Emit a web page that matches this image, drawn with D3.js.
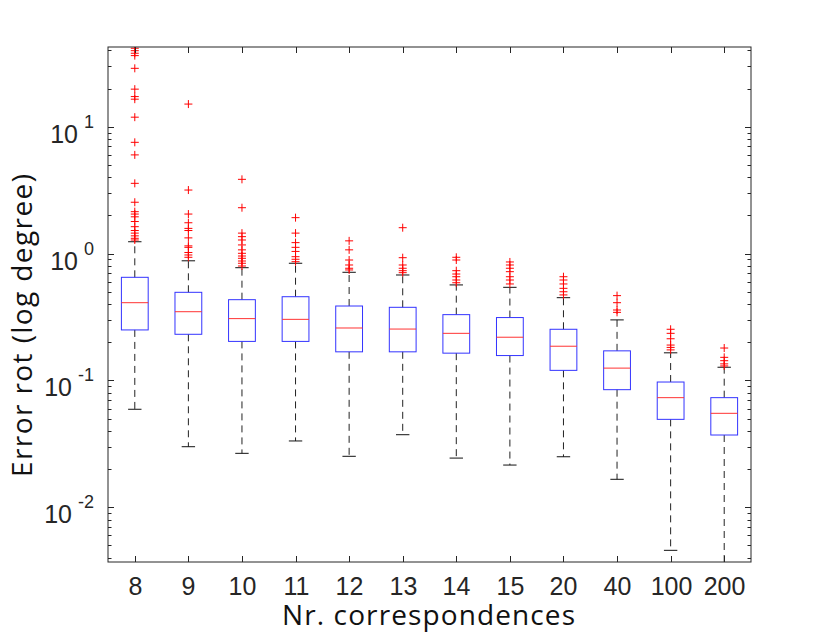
<!DOCTYPE html>
<html><head><meta charset="utf-8">
<script src="https://cdn.jsdelivr.net/npm/d3@7"></script>
<style>body{margin:0;background:#fff}</style>
</head><body>
<svg id="c" width="830" height="633"></svg>
<script>
const categories = ["8","9","10","11","12","13","14","15","20","40","100","200"];
const q1      = [0.250,0.231,0.203,0.203,0.168,0.168,0.164,0.157,0.120,0.0845,0.0493,0.0371];
const median  = [0.410,0.348,0.307,0.303,0.259,0.254,0.235,0.219,0.186,0.125,0.0731,0.0550];
const q3      = [0.650,0.495,0.433,0.457,0.386,0.377,0.330,0.313,0.253,0.171,0.0971,0.0731];
const whiskLo = [0.0592,0.0300,0.0266,0.0333,0.0252,0.0373,0.0244,0.0215,0.0250,0.0166,0.00457,0.0030];
const whiskHi = [1.24,0.877,0.774,0.839,0.712,0.678,0.566,0.542,0.449,0.300,0.165,0.127];
const outliers = [
  [41.6,39.8,38.0,36.4,28.9,19.8,17.3,16.5,11.9,7.54,6.0,3.58,2.54,2.14,2.05,1.95,1.79,1.63,1.52,1.45,1.38,1.32,1.28],
  [15.1,3.17,2.05,1.75,1.58,1.52,1.33,1.15,1.12,1.02,0.975,0.935],
  [3.85,2.30,1.45,1.36,1.28,1.17,1.07,1.005,0.957,0.918,0.874,0.839,0.798],
  [1.92,1.45,1.22,1.12,1.04,0.945,0.902,0.863],
  [1.26,1.07,0.890,0.813,0.766,0.743],
  [1.60,0.928,0.813,0.766,0.733,0.707],
  [0.935,0.890,0.733,0.690,0.657,0.619,0.589],
  [0.859,0.813,0.766,0.720,0.657,0.619,0.576],
  [0.657,0.619,0.576,0.532,0.500,0.472],
  [0.466,0.410,0.359,0.344],
  [0.253,0.235,0.213,0.190,0.182,0.174],
  [0.180,0.152,0.143,0.135,0.130]
];
const yTickExps = [-2,-1,0,1];
const xLabel = "Nr. correspondences";
const yLabel = "Error rot (log degree)";

const L=108, R=751, T=47, B=562;
const svg = d3.select("#c");
const x = d3.scaleBand().domain(categories).range([L,R]);
const y = d3.scaleLog().domain([Math.pow(10,-2.432), Math.pow(10,1.629)]).range([B,T]);
const bw = x.bandwidth()*0.5;
const axisCol = "#262626";

svg.append("clipPath").attr("id","pc").append("rect").attr("x",L).attr("y",T).attr("width",R-L).attr("height",B-T);
const g = svg.append("g").attr("clip-path","url(#pc)");

categories.forEach((c,i)=>{
  const cx = x(c)+x.bandwidth()/2;
  g.append("line").attr("x1",cx).attr("x2",cx).attr("y1",y(q3[i])).attr("y2",y(whiskHi[i]))
    .attr("stroke","#222").attr("stroke-width",1).attr("stroke-dasharray","7,5");
  g.append("line").attr("x1",cx).attr("x2",cx).attr("y1",y(q1[i])).attr("y2",y(whiskLo[i]))
    .attr("stroke","#222").attr("stroke-width",1).attr("stroke-dasharray","7,5");
  [whiskHi[i],whiskLo[i]].forEach(v=>{
    g.append("line").attr("x1",cx-bw/4).attr("x2",cx+bw/4).attr("y1",y(v)).attr("y2",y(v))
      .attr("stroke","#111").attr("stroke-width",1);
  });
  g.append("rect").attr("x",cx-bw/2).attr("width",bw).attr("y",y(q3[i])).attr("height",y(q1[i])-y(q3[i]))
    .attr("fill","none").attr("stroke","#3333ff").attr("stroke-width",1);
  g.append("line").attr("x1",cx-bw/2).attr("x2",cx+bw/2).attr("y1",y(median[i])).attr("y2",y(median[i]))
    .attr("stroke","#ff3333").attr("stroke-width",1);
  outliers[i].forEach(v=>{
    const py=y(v);
    g.append("path").attr("d",`M${cx-4},${py}H${cx+4}M${cx},${py-4}V${py+4}`)
      .attr("stroke","#ff0000").attr("stroke-width",1).attr("fill","none");
  });
});

svg.append("rect").attr("x",L).attr("y",T).attr("width",R-L).attr("height",B-T)
  .attr("fill","none").attr("stroke",axisCol).attr("stroke-width",1);

const ax = svg.append("g");
const ticks=[];
for(let e=-3;e<=1;e++) for(let m=1;m<10;m++){const v=m*Math.pow(10,e); if(y(v)>=T && y(v)<=B) ticks.push({v,major:m===1});}
ticks.forEach(d=>{
  const py=Math.round(y(d.v))+0.5, len=d.major?6:3.5;
  ax.append("line").attr("x1",L).attr("x2",L+len).attr("y1",py).attr("y2",py).attr("stroke",axisCol);
  ax.append("line").attr("x1",R).attr("x2",R-len).attr("y1",py).attr("y2",py).attr("stroke",axisCol);
});
yTickExps.forEach(e=>{
  const py=y(Math.pow(10,e));
  const t=ax.append("text").attr("x",94).attr("y",py+16).attr("text-anchor","end")
    .attr("font-family","Liberation Sans, Arial, sans-serif").attr("fill","#262626").attr("font-size",25);
  t.append("tspan").text("10");
  t.append("tspan").attr("dx",6).attr("dy",-15).attr("font-size",18).text(String(e));
});

categories.forEach(c=>{
  const cx=Math.round(x(c)+x.bandwidth()/2)+0.5;
  ax.append("line").attr("x1",cx).attr("x2",cx).attr("y1",B).attr("y2",B-6).attr("stroke",axisCol);
  ax.append("line").attr("x1",cx).attr("x2",cx).attr("y1",T).attr("y2",T+6).attr("stroke",axisCol);
  ax.append("text").attr("x",cx).attr("y",595).attr("text-anchor","middle")
    .attr("font-family","Liberation Sans, Arial, sans-serif").attr("font-size",25).attr("fill","#262626").text(c);
});

svg.append("text").attr("x",428.5).attr("y",625).attr("text-anchor","middle")
  .attr("font-family","Open Sans, sans-serif").attr("font-size",28).attr("fill","#111")
  .attr("textLength",293).attr("lengthAdjust","spacing").text(xLabel);
svg.append("text").attr("transform",`translate(32,325.5) rotate(-90)`).attr("text-anchor","middle")
  .attr("font-family","Open Sans, sans-serif").attr("font-size",28).attr("fill","#111")
  .attr("textLength",303).attr("lengthAdjust","spacing").text(yLabel);
</script>
</body></html>
